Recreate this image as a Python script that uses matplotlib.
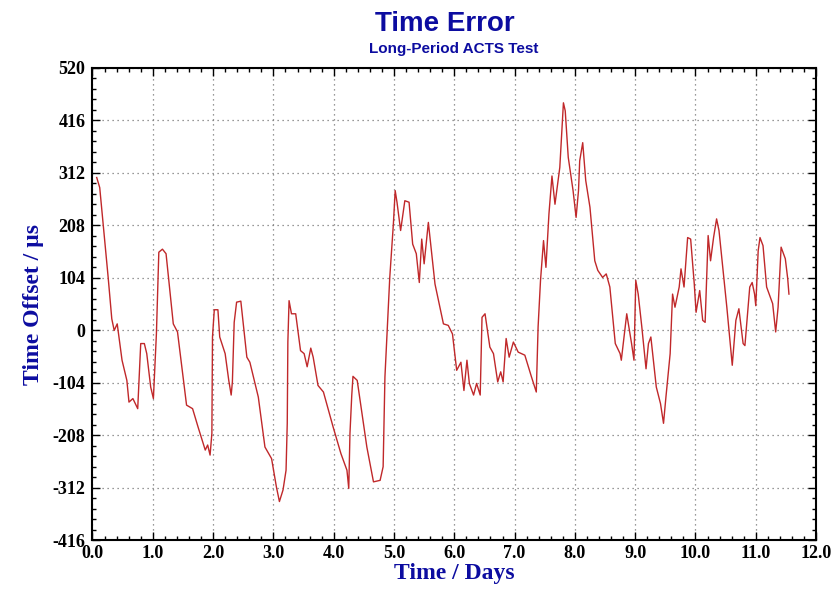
import matplotlib
matplotlib.use('Agg')
import matplotlib.pyplot as plt
from matplotlib.ticker import MultipleLocator, FormatStrFormatter

plt.rcParams['axes.unicode_minus'] = False

# time (days) and time offset (microseconds)
days = [0.07, 0.12, 0.26, 0.32, 0.36, 0.41, 0.49, 0.57, 0.605, 0.67, 0.75, 0.80, 0.86,
        0.90, 0.965, 1.01, 1.04, 1.06, 1.10, 1.16, 1.22, 1.34, 1.41, 1.56, 1.66, 1.75,
        1.87, 1.91, 1.95, 1.98, 1.99, 2.02, 2.08, 2.11, 2.20, 2.26, 2.30, 2.32, 2.35,
        2.39, 2.46, 2.56, 2.61, 2.75, 2.86, 2.97, 3.05, 3.10, 3.16, 3.21, 3.23, 3.24,
        3.26, 3.30, 3.37, 3.45, 3.51, 3.56, 3.62, 3.66, 3.74, 3.83, 3.99, 4.12, 4.22,
        4.25, 4.27, 4.30, 4.32, 4.39, 4.55, 4.66, 4.77, 4.82, 4.85, 4.93, 4.99, 5.02,
        5.05, 5.11, 5.18, 5.25, 5.31, 5.37, 5.42, 5.46, 5.50, 5.57, 5.68, 5.82, 5.90,
        5.97, 6.04, 6.11, 6.16, 6.21, 6.25, 6.32, 6.37, 6.43, 6.46, 6.51, 6.59, 6.65,
        6.72, 6.77, 6.81, 6.86, 6.91, 6.98, 7.06, 7.17, 7.28, 7.36, 7.39, 7.43, 7.48,
        7.52, 7.57, 7.62, 7.67, 7.75, 7.81, 7.84, 7.89, 7.97, 8.02, 8.06, 8.08, 8.13,
        8.18, 8.25, 8.33, 8.38, 8.46, 8.52, 8.58, 8.67, 8.75, 8.77, 8.86, 8.94, 8.98,
        9.01, 9.05, 9.11, 9.18, 9.22, 9.26, 9.35, 9.42, 9.47, 9.51, 9.58, 9.62, 9.66,
        9.73, 9.76, 9.81, 9.87, 9.92, 9.98, 10.01, 10.07, 10.12, 10.16, 10.21, 10.25,
        10.30, 10.35, 10.39, 10.52, 10.61, 10.67, 10.72, 10.79, 10.82, 10.90, 10.94,
        10.98, 11.00, 11.04, 11.07, 11.12, 11.18, 11.24, 11.28, 11.33, 11.37, 11.42,
        11.46, 11.49, 11.53, 11.55]
offset = [303, 283, 105, 23, 0, 13, -59, -99, -142, -135, -155, -26, -26,
          -46, -112, -135, -59, -7, 155, 161, 152, 13, -3, -148, -155, -191,
          -237, -227, -247, -204, -13, 41, 41, -13, -46, -99, -128, -102, 16,
          56, 58, -53, -63, -132, -231, -254, -310, -339, -316, -277, -184, -23,
          59, 33, 33, -40, -46, -72, -35, -53, -109, -122, -191, -244, -277,
          -313, -204, -128, -91, -99, -231, -300, -297, -270, -92, 105, 211, 277,
          254, 198, 257, 254, 171, 152, 95, 181, 132, 214, 92, 13, 10,
          -7, -79, -63, -119, -59, -105, -128, -105, -128, 26, 33, -33, -46,
          -102, -82, -102, -16, -53, -23, -43, -49, -92, -122, 7, 99, 178,
          125, 231, 306, 250, 323, 451, 435, 343, 277, 224, 277, 336, 372,
          297, 244, 138, 119, 105, 112, 86, -26, -46, -59, 33, -26, -59,
          99, 72, 7, -76, -26, -13, -112, -145, -184, -132, -46, 72, 46,
          86, 122, 86, 184, 181, 92, 36, 79, 20, 16, 188, 138,
          184, 221, 198, 46, -69, 20, 43, -26, -30, 86, 95,
          72, 49, 158, 184, 168, 86, 66, 53, -3, 46, 165,
          152, 142, 102, 72]

yticks = [-416, -312, -208, -104, 0, 104, 208, 312, 416, 520]

blue = '#0c0ca0'

fig = plt.figure(figsize=(8.37, 5.89), dpi=100)
ax = fig.add_axes([0.1105, 0.0825, 0.8645, 0.8021])

ax.plot(days, offset, color='#c0282a', linewidth=1.0)

ax.set_xlim(0, 12)
ax.set_ylim(-416, 520)
ax.xaxis.set_major_locator(MultipleLocator(1.0))
ax.xaxis.set_minor_locator(MultipleLocator(0.2))
ax.set_yticks(yticks)
ax.yaxis.set_minor_locator(MultipleLocator(20.8))
ax.xaxis.set_major_formatter(FormatStrFormatter('%.1f'))

ax.grid(True, which='major', linestyle=(0, (1, 3)), color='#777777', linewidth=0.9)
ax.tick_params(which='both', direction='in', top=True, right=True, width=1.0)
ax.tick_params(which='major', length=6)
ax.tick_params(which='minor', length=3)
ax.tick_params(axis='x', pad=3)
ax.tick_params(axis='y', pad=5)
for lab in ax.get_xticklabels() + ax.get_yticklabels():
    lab.set_fontfamily('Liberation Serif')
    lab.set_fontweight('bold')
    lab.set_fontsize(13)
for s in ax.spines.values():
    s.set_linewidth(1.5)

ax.set_xlabel('Time / Days', fontfamily='Liberation Serif', fontweight='bold',
              fontsize=17, color=blue, labelpad=1)
ax.set_ylabel('Time Offset / µs', fontfamily='Liberation Serif', fontweight='bold',
              fontsize=17, color=blue, labelpad=6)

fig.text(0.532, 0.960, 'Time Error', ha='center', va='center',
         fontfamily='Liberation Sans', fontweight='bold', fontsize=20, color=blue)
fig.text(0.542, 0.916, 'Long-Period ACTS Test', ha='center', va='center',
         fontfamily='Liberation Sans', fontweight='bold', fontsize=11, color=blue)

fig.savefig('out.png', dpi=100)
